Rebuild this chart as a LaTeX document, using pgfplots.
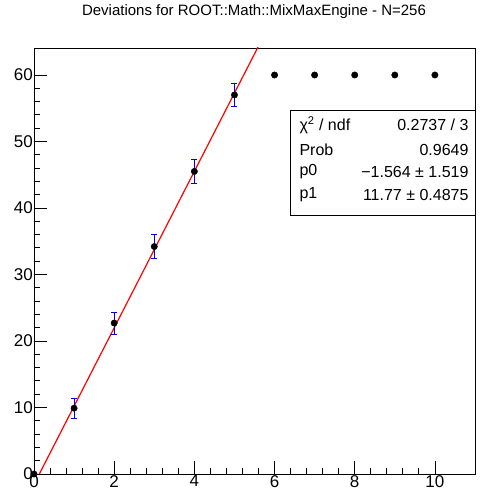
\documentclass[border=0pt]{standalone}
\usepackage{fontspec}
\setmainfont{Liberation Sans}
\usepackage{pgfplots}
\pgfplotsset{compat=1.18}

\pgfplotstableread{
x y e
0 0 0
1 9.9 1.5
2 22.7 1.65
3 34.2 1.75
4 45.5 1.75
5 57.0 1.75
6 60 0
7 60 0
8 60 0
9 60 0
10 60 0
}\devdata

\begin{document}
\begin{tikzpicture}[x=1pt,y=1pt]
\path[use as bounding box] (-34,-17) rectangle (449,474);
\begin{axis}[
  at={(0,0)}, anchor=south west,
  width=441pt, height=426pt, scale only axis,
  xmin=0, xmax=11, ymin=0, ymax=64.06,
  xtick={0,2,...,10}, ytick={0,10,...,60},
  minor x tick num=4, minor y tick num=4,
  tick align=inside, xtick pos=bottom, ytick pos=left,
  major tick length=13pt, minor tick length=6.5pt,
  tick style={black, line width=0.8pt},
  axis line style={line width=0.8pt},
  /pgf/number format/assume math mode=true,
  ticklabel style={font=\fontsize{17}{17}\selectfont},
  xticklabel style={inner sep=1pt},
  yticklabel style={inner sep=1pt},
]
\addplot[red, line width=1.2pt] coordinates {(0,-1.564) (11,127.906)};
\addplot[only marks, mark=*, black, mark size=3.2pt,
  error bars/.cd, y dir=both, y explicit,
  error bar style={blue!90!black, line width=0.9pt},
  error mark options={rotate=90, mark size=3pt, blue!90!black, line width=0.9pt}]
  table[x=x, y=y, y error=e] {\devdata};
\end{axis}
\node[font=\fontsize{15}{15}\selectfont] at (220,462) {Deviations for ROOT::Math::MixMaxEngine - N=256};
\draw[line width=0.8pt, fill=white] (256,259) rectangle (441,364);
\begin{scope}[font=\fontsize{16}{16}\selectfont]
\node[anchor=west] at (262,349) {χ\textsuperscript{2} / ndf};
\node[anchor=east] at (438,349) {0.2737 / 3};
\node[anchor=west] at (262,324) {Prob};
\node[anchor=east] at (438,324) {0.9649};
\node[anchor=west] at (262,302) {p0};
\node[anchor=east] at (438,302) {−1.564 ± 1.519};
\node[anchor=west] at (262,279) {p1};
\node[anchor=east] at (438,279) {11.77 ± 0.4875};
\end{scope}
\end{tikzpicture}
\end{document}
